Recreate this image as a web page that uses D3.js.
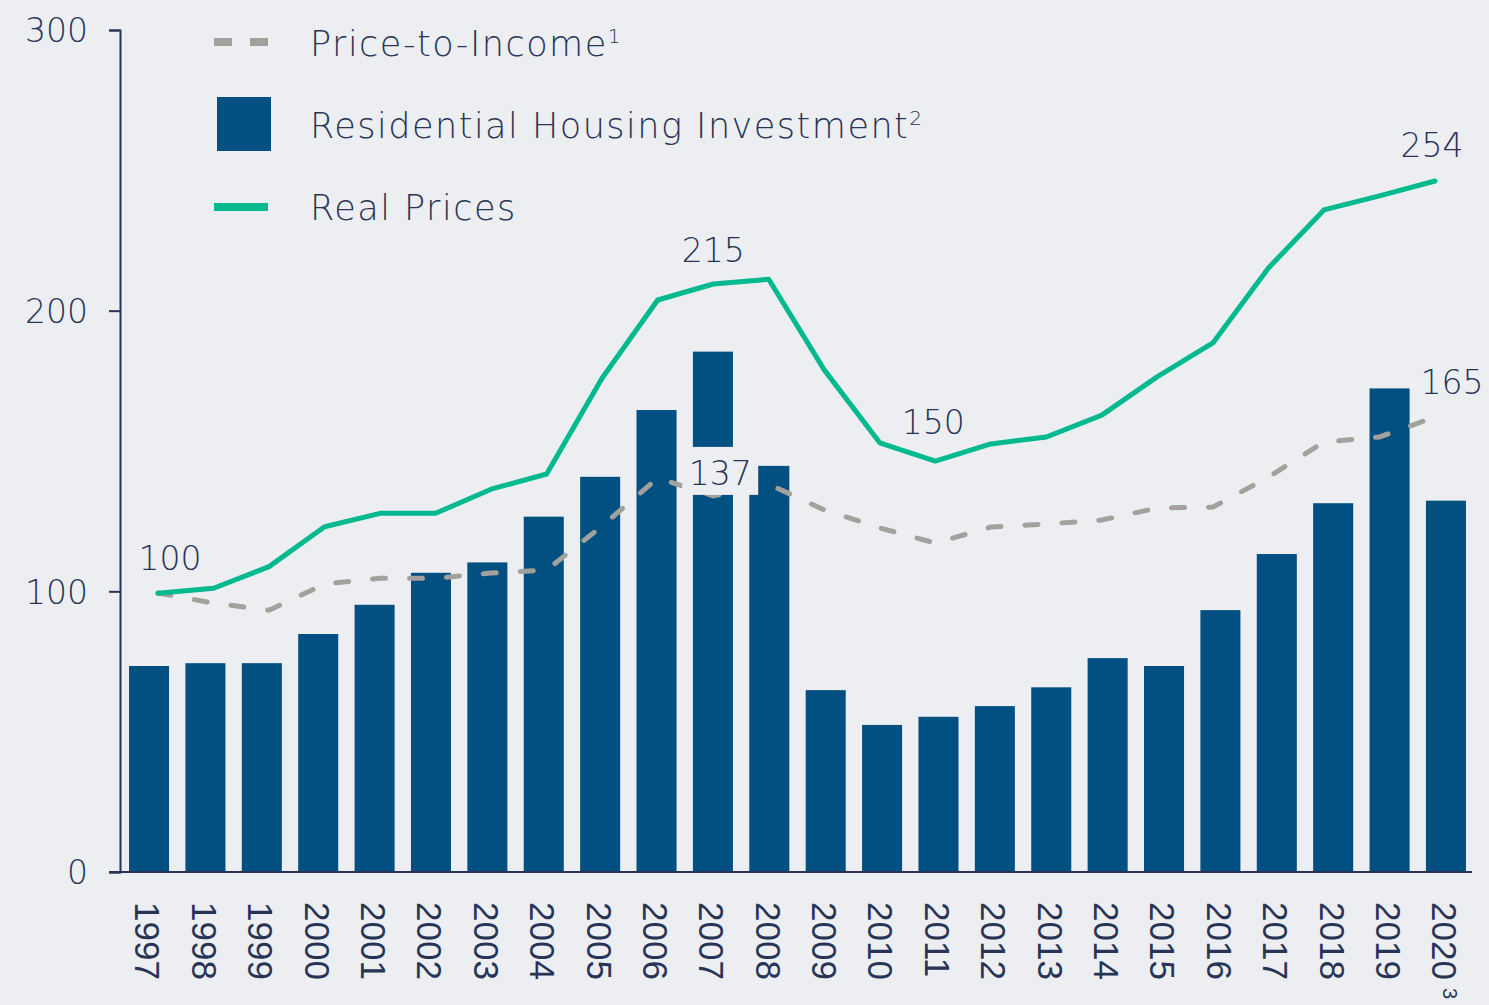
<!DOCTYPE html>
<html>
<head>
<meta charset="utf-8">
<script src="https://cdn.jsdelivr.net/npm/d3@7"></script>
<style>
  html, body { margin: 0; padding: 0; background: #eceef2; }
  .lbl { font-family: "DejaVu Sans", Inter, sans-serif; font-weight: 200; fill: #283456; }
  .leg { letter-spacing: 1.5px; }
  .xlbl { font-family: "Liberation Sans", Arial, sans-serif; fill: #283456; }
</style>
</head>
<body>
<div id="chart"></div>
<script>
var years = ['1997', '1998', '1999', '2000', '2001', '2002', '2003', '2004', '2005', '2006', '2007', '2008',
  '2009', '2010', '2011', '2012', '2013', '2014', '2015', '2016', '2017', '2018', '2019', '2020'];
var investment = [73.4, 74.4, 74.4, 84.8, 95.2, 106.6, 110.3, 126.6, 140.8, 164.6, 185.4, 144.7,
  64.8, 52.4, 55.3, 59.1, 65.8, 76.2, 73.4, 93.3, 113.3, 131.4, 172.3, 132.3];
var realPrices = [99.3, 101.1, 108.8, 123.0, 127.8, 127.8, 136.4, 141.8, 176.0, 203.8, 209.5, 211.2,
  178.9, 152.9, 146.4, 152.5, 155.0, 162.8, 176.5, 188.5, 215.2, 235.9, 240.9, 246.2];
var priceToIncome = [99.4, 95.8, 93.3, 102.6, 104.7, 104.7, 106.5, 107.6, 123.3, 140.4, 134.0, 138.2,
  129.0, 122.6, 117.2, 122.9, 124.0, 125.4, 129.7, 130.0, 140.7, 153.2, 155.0, 162.1];
var yTicks = [0, 100, 200, 300];
// callouts next to line points
var callouts = [
  {year: '1997', text: '100', series: 'real', dx: 12, dy: -23},
  {year: '2007', text: '215', series: 'real', dx: 0, dy: -22},
  {year: '2007', text: '137', series: 'pti', dx: 7, dy: -11, box: true},
  {year: '2011', text: '150', series: 'real', dx: -2, dy: -27},
  {year: '2020', text: '254', series: 'real', dx: -3, dy: -24},
  {year: '2020', text: '165', series: 'pti', dx: 17, dy: -23}
];

var width = 1489;
var height = 1005;
var bg = '#eceef2';
var navy = '#283456';

var svg = d3.select('#chart')
    .append('svg')
    .attr('width', width)
    .attr('height', height)
    .style('display', 'block')
    .style('background-color', bg);

// Scales
var scaleX = d3.scaleBand()
    .domain(years)
    .range([120, 1475])
    .paddingInner(0.29)
    .paddingOuter(0.16);
var lineX = d3.scalePoint()
    .domain(years)
    .range([158, 1435]);
var scaleY = d3.scaleLinear()
    .domain([0, 300])
    .range([872, 30]);

// Bars
svg.append('g').selectAll('rect')
    .data(investment)
    .enter()
    .append('rect')
    .attr('x', function(d, i) { return scaleX(years[i]); })
    .attr('y', function(d) { return scaleY(d); })
    .attr('width', scaleX.bandwidth())
    .attr('height', function(d) { return scaleY(0) - scaleY(d); })
    .attr('fill', '#024f81');

// Axes
var axisY = d3.axisLeft(scaleY).tickValues(yTicks).tickSize(11).tickPadding(21);
var gy = svg.append('g')
    .attr('transform', 'translate(120,0)')
    .call(axisY);
gy.select('.domain').attr('stroke', navy).attr('stroke-width', 2);
gy.selectAll('.tick line').attr('stroke', navy).attr('stroke-width', 2);
gy.selectAll('.tick text')
    .attr('class', 'lbl')
    .attr('font-size', 33)
    .attr('dy', '0.36em');

svg.append('line')
    .attr('x1', 109).attr('x2', 1472)
    .attr('y1', scaleY(0)).attr('y2', scaleY(0))
    .attr('stroke', navy).attr('stroke-width', 2);

var xl = svg.append('g').selectAll('text')
    .data(years)
    .enter()
    .append('text')
    .attr('class', 'xlbl')
    .attr('font-size', 35)
    .attr('transform', function(d) {
      return 'translate(' + (scaleX(d) + scaleX.bandwidth() / 2 - 1) + ',902) rotate(90)';
    })
    .attr('dy', '0.36em')
    .text(function(d) { return d; });
xl.filter(function(d) { return d === '2020'; })
    .append('tspan')
    .attr('font-size', 20)
    .attr('dx', 8)
    .attr('dy', '-0.55em')
    .text('3');

// Lines
var line = function(vals) {
  return d3.line()
      .x(function(d, i) { return lineX(years[i]); })
      .y(function(d) { return scaleY(d); })(vals);
};
svg.append('path')
    .attr('d', line(priceToIncome))
    .attr('fill', 'none')
    .attr('stroke', '#a3a19b')
    .attr('stroke-width', 5)
    .attr('stroke-linecap', 'round')
    .attr('stroke-dasharray', '13 24');
svg.append('path')
    .attr('d', line(realPrices))
    .attr('fill', 'none')
    .attr('stroke', '#00b98e')
    .attr('stroke-width', 5)
    .attr('stroke-linejoin', 'round')
    .attr('stroke-linecap', 'round');

// Callouts
callouts.forEach(function(c) {
  var i = years.indexOf(c.year);
  var v = c.series === 'real' ? realPrices[i] : priceToIncome[i];
  var cx = lineX(c.year) + c.dx;
  var cy = scaleY(v) + c.dy;
  if (c.box) {
    svg.append('rect')
        .attr('x', cx - 38).attr('y', cy - 38)
        .attr('width', 76).attr('height', 48)
        .attr('fill', bg);
  }
  svg.append('text')
      .attr('class', 'lbl')
      .attr('font-size', 33)
      .attr('text-anchor', 'middle')
      .attr('x', cx)
      .attr('y', cy)
      .text(c.text);
});

// Legend
var legend = svg.append('g');
legend.append('line')
    .attr('x1', 214).attr('x2', 268).attr('y1', 42).attr('y2', 42)
    .attr('stroke', '#a3a19b').attr('stroke-width', 8)
    .attr('stroke-dasharray', '18 18');
legend.append('rect')
    .attr('x', 217).attr('y', 97).attr('width', 54).attr('height', 54)
    .attr('fill', '#024f81');
legend.append('line')
    .attr('x1', 214).attr('x2', 268).attr('y1', 207).attr('y2', 207)
    .attr('stroke', '#00b98e').attr('stroke-width', 8);

var legendItems = [
  {text: 'Price-to-Income', sup: '1', y: 56},
  {text: 'Residential Housing Investment', sup: '2', y: 138},
  {text: 'Real Prices', sup: '', y: 220}
];
legendItems.forEach(function(d) {
  var t = legend.append('text')
      .attr('class', 'lbl leg')
      .attr('font-size', 35)
      .attr('x', 310)
      .attr('y', d.y)
      .text(d.text);
  if (d.sup) {
    t.append('tspan')
        .attr('font-size', 20)
        .attr('dx', 0)
        .attr('dy', -13)
        .text(d.sup);
  }
});
</script>
</body>
</html>
